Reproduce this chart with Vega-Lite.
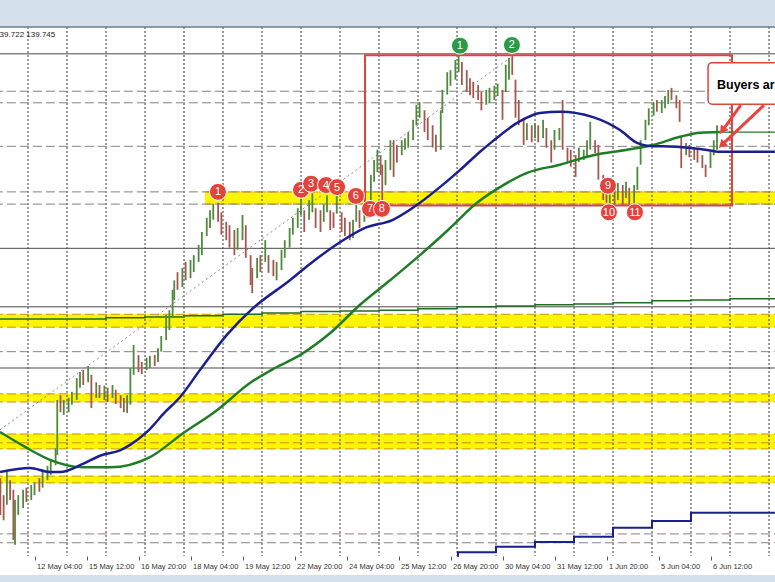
{
  "$schema": "https://vega.github.io/schema/vega-lite/v6.json",
  "width": 775,
  "height": 548,
  "autosize": "none",
  "padding": {"top": 27, "bottom": 7, "left": 0, "right": 0},
  "background": "#d3dfeb",
  "config": {"view": {"fill": "#ffffff", "stroke": null}, "font": "Liberation Sans"},
  "datasets": {
    "grid": [{"b":-4,"p":141.3747,"p2":133.596},{"b":20,"p":141.3747,"p2":133.596},{"b":44,"p":141.3747,"p2":133.596},{"b":68,"p":141.3747,"p2":133.596},{"b":92,"p":141.3747,"p2":133.596},{"b":116,"p":141.3747,"p2":133.596},{"b":140,"p":141.3747,"p2":133.596},{"b":164,"p":141.3747,"p2":133.596},{"b":188,"p":141.3747,"p2":133.596},{"b":212,"p":141.3747,"p2":133.596},{"b":236,"p":141.3747,"p2":133.596},{"b":260,"p":141.3747,"p2":133.596},{"b":284,"p":141.3747,"p2":133.596},{"b":308,"p":141.3747,"p2":133.596},{"b":332,"p":141.3747,"p2":133.596},{"b":356,"p":141.3747,"p2":133.596},{"b":380,"p":141.3747,"p2":133.596},{"b":404,"p":141.3747,"p2":133.596},{"b":428,"p":141.3747,"p2":133.596},{"b":452,"p":141.3747,"p2":133.596}],
    "bands": [
      {"b":104.9,"b2":460,"p":138.95,"p2":138.77},
      {"b":-25,"b2":460,"p":137.15,"p2":136.96},
      {"b":-25,"b2":460,"p":135.98,"p2":135.86},
      {"b":-25,"b2":460,"p":135.39,"p2":135.17},
      {"b":-25,"b2":460,"p":134.77,"p2":134.67}
    ],
    "dash": [
      {"b":-25,"b2":460,"p":140.43},{"b":-25,"b2":460,"p":140.26},{"b":-25,"b2":460,"p":139.62},
      {"b":-25,"b2":460,"p":138.95},{"b":-25,"b2":460,"p":138.77},{"b":-25,"b2":460,"p":136.60},
      {"b":-25,"b2":460,"p":133.92},{"b":-25,"b2":460,"p":133.79}
    ],
    "solid": [
      {"b":-25,"b2":460,"p":140.98},{"b":-25,"b2":460,"p":138.12},{"b":-25,"b2":460,"p":137.26},{"b":-25,"b2":460,"p":136.36}
    ],
    "edges": [
      {"b":104.9,"b2":460,"p":138.95},{"b":104.9,"b2":460,"p":138.77},
      {"b":-25,"b2":460,"p":137.15},{"b":-25,"b2":460,"p":136.96},
      {"b":-25,"b2":460,"p":135.98},{"b":-25,"b2":460,"p":135.86},
      {"b":-25,"b2":460,"p":135.39},{"b":-25,"b2":460,"p":135.26},{"b":-25,"b2":460,"p":135.17},
      {"b":-25,"b2":460,"p":134.77},{"b":-25,"b2":460,"p":134.67}
    ],
    "stepG": [
      {"b":-21.2,"p":137.08},{"b":-4,"p":137.08},{"b":20,"p":137.08},{"b":44,"p":137.10},{"b":68,"p":137.11},{"b":92,"p":137.13},{"b":116,"p":137.15},{"b":140,"p":137.17},{"b":164,"p":137.19},{"b":188,"p":137.20},{"b":212,"p":137.21},{"b":236,"p":137.23},{"b":260,"p":137.26},{"b":284,"p":137.27},{"b":308,"p":137.29},{"b":332,"p":137.30},{"b":356,"p":137.32},{"b":380,"p":137.35},{"b":404,"p":137.36},{"b":428,"p":137.38},{"b":457,"p":137.38}
    ],
    "stepB": [
      {"b":260,"p":133.60},{"b":260.6,"p":133.65},{"b":284,"p":133.73},{"b":308,"p":133.80},{"b":332,"p":133.88},{"b":356,"p":134.01},{"b":380,"p":134.11},{"b":404,"p":134.23},{"b":457,"p":134.23}
    ],
    "trend": [{"b":-21.2,"p":135.45},{"b":292.6,"p":140.92}],
    "candles": [
      {"b":-21,"p":134.74,"p2":134.20,"d":"d"},{"b":-19,"p":134.49,"p2":134.12,"d":"d"},{"b":-17,"p":134.86,"p2":134.35,"d":"u"},{"b":-15,"p":134.71,"p2":134.42,"d":"d"},
      {"b":-13,"p":134.57,"p2":133.83,"d":"d"},{"b":-12,"p":134.42,"p2":133.76,"d":"u"},{"b":-10,"p":134.49,"p2":134.20,"d":"u"},{"b":-7,"p":134.57,"p2":134.30,"d":"u"},
      {"b":-5,"p":134.60,"p2":134.39,"d":"d"},{"b":-2,"p":134.64,"p2":134.42,"d":"u"},{"b":0,"p":134.68,"p2":134.49,"d":"u"},{"b":3,"p":134.74,"p2":134.54,"d":"d"},
      {"b":5,"p":134.86,"p2":134.60,"d":"u"},{"b":8,"p":134.92,"p2":134.71,"d":"u"},{"b":10,"p":135.01,"p2":134.79,"d":"u"},{"b":13,"p":135.18,"p2":134.93,"d":"u"},
      {"b":14,"p":135.89,"p2":135.08,"d":"u"},{"b":16,"p":135.96,"p2":135.71,"d":"d"},{"b":18,"p":135.89,"p2":135.67,"d":"u"},{"b":21,"p":135.92,"p2":135.71,"d":"u"},
      {"b":23,"p":136.01,"p2":135.82,"d":"u"},{"b":26,"p":136.21,"p2":135.89,"d":"u"},{"b":28,"p":136.30,"p2":136.07,"d":"u"},{"b":30,"p":136.33,"p2":136.11,"d":"d"},
      {"b":33,"p":136.39,"p2":136.15,"d":"u"},{"b":35,"p":136.26,"p2":135.77,"d":"d"},{"b":38,"p":136.15,"p2":135.92,"d":"u"},{"b":40,"p":136.11,"p2":135.92,"d":"d"},
      {"b":43,"p":136.10,"p2":135.89,"d":"u"},{"b":45,"p":136.07,"p2":135.86,"d":"d"},{"b":48,"p":136.11,"p2":135.92,"d":"u"},{"b":50,"p":136.04,"p2":135.83,"d":"d"},
      {"b":53,"p":135.96,"p2":135.77,"d":"d"},{"b":55,"p":135.92,"p2":135.71,"d":"d"},{"b":57,"p":135.96,"p2":135.70,"d":"u"},{"b":59,"p":136.36,"p2":135.82,"d":"u"},
      {"b":61,"p":136.70,"p2":136.26,"d":"u"},{"b":64,"p":136.55,"p2":136.30,"d":"d"},{"b":66,"p":136.45,"p2":136.27,"d":"d"},{"b":69,"p":136.51,"p2":136.33,"d":"u"},
      {"b":71,"p":136.54,"p2":136.36,"d":"u"},{"b":74,"p":136.55,"p2":136.39,"d":"d"},{"b":76,"p":136.65,"p2":136.45,"d":"u"},{"b":78,"p":136.83,"p2":136.60,"d":"u"},
      {"b":81,"p":137.14,"p2":136.77,"d":"u"},{"b":83,"p":137.21,"p2":136.92,"d":"u"},{"b":85,"p":137.51,"p2":137.10,"d":"u"},{"b":86,"p":137.65,"p2":137.36,"d":"u"},
      {"b":88,"p":137.77,"p2":137.51,"d":"d"},{"b":91,"p":137.83,"p2":137.55,"d":"u"},{"b":93,"p":137.92,"p2":137.65,"d":"d"},{"b":96,"p":137.95,"p2":137.68,"d":"u"},
      {"b":98,"p":138.02,"p2":137.77,"d":"u"},{"b":101,"p":138.17,"p2":137.92,"d":"u"},{"b":103,"p":138.36,"p2":138.02,"d":"u"},{"b":106,"p":138.57,"p2":138.30,"d":"u"},
      {"b":108,"p":138.68,"p2":138.42,"d":"u"},{"b":110,"p":138.77,"p2":138.54,"d":"u"},{"b":113,"p":138.79,"p2":138.51,"d":"d"},{"b":115,"p":138.65,"p2":138.32,"d":"d"},
      {"b":118,"p":138.51,"p2":138.24,"d":"d"},{"b":120,"p":138.46,"p2":138.13,"d":"d"},{"b":123,"p":138.39,"p2":138.02,"d":"d"},{"b":125,"p":138.42,"p2":138.10,"d":"u"},
      {"b":128,"p":138.61,"p2":138.24,"d":"u"},{"b":130,"p":138.46,"p2":137.98,"d":"d"},{"b":133,"p":138.02,"p2":137.58,"d":"d"},{"b":134,"p":137.83,"p2":137.46,"d":"d"},
      {"b":137,"p":137.98,"p2":137.68,"d":"u"},{"b":139,"p":138.02,"p2":137.77,"d":"d"},{"b":142,"p":138.24,"p2":137.92,"d":"u"},{"b":144,"p":138.02,"p2":137.76,"d":"d"},
      {"b":147,"p":137.95,"p2":137.71,"d":"d"},{"b":149,"p":137.92,"p2":137.65,"d":"u"},{"b":152,"p":138.10,"p2":137.80,"d":"u"},{"b":154,"p":138.24,"p2":137.98,"d":"u"},
      {"b":157,"p":138.42,"p2":138.13,"d":"u"},{"b":159,"p":138.57,"p2":138.32,"d":"u"},{"b":162,"p":138.71,"p2":138.42,"d":"u"},{"b":164,"p":138.86,"p2":138.61,"d":"u"},
      {"b":166,"p":138.68,"p2":138.36,"d":"d"},{"b":169,"p":138.83,"p2":138.54,"d":"u"},{"b":171,"p":138.93,"p2":138.65,"d":"u"},{"b":173,"p":138.71,"p2":138.42,"d":"d"},
      {"b":176,"p":138.68,"p2":138.36,"d":"d"},{"b":178,"p":138.76,"p2":138.51,"d":"u"},{"b":180,"p":138.90,"p2":138.65,"d":"u"},{"b":182,"p":138.68,"p2":138.39,"d":"d"},
      {"b":184,"p":138.65,"p2":138.42,"d":"d"},{"b":186,"p":138.89,"p2":138.63,"d":"u"},{"b":189,"p":138.65,"p2":138.36,"d":"d"},{"b":191,"p":138.57,"p2":138.30,"d":"d"},
      {"b":194,"p":138.51,"p2":138.24,"d":"d"},{"b":196,"p":138.54,"p2":138.27,"d":"u"},{"b":198,"p":138.83,"p2":138.51,"d":"u"},{"b":200,"p":138.68,"p2":138.42,"d":"d"},
      {"b":203,"p":138.71,"p2":138.51,"d":"u"},{"b":205,"p":138.80,"p2":138.57,"d":"d"},{"b":207,"p":139.20,"p2":138.76,"d":"u"},{"b":209,"p":139.42,"p2":139.10,"d":"u"},
      {"b":211,"p":139.57,"p2":139.24,"d":"u"},{"b":213,"p":139.49,"p2":139.20,"d":"d"},{"b":214,"p":139.35,"p2":138.83,"d":"d"},{"b":216,"p":139.42,"p2":139.05,"d":"u"},
      {"b":219,"p":139.71,"p2":139.27,"d":"u"},{"b":221,"p":139.71,"p2":139.17,"d":"d"},{"b":223,"p":139.64,"p2":139.38,"d":"d"},{"b":226,"p":139.71,"p2":139.49,"d":"u"},
      {"b":228,"p":139.74,"p2":139.57,"d":"u"},{"b":230,"p":139.83,"p2":139.60,"d":"u"},{"b":233,"p":140.01,"p2":139.71,"d":"u"},{"b":235,"p":140.23,"p2":139.93,"d":"u"},
      {"b":237,"p":140.27,"p2":140.04,"d":"u"},{"b":240,"p":140.15,"p2":139.83,"d":"d"},{"b":242,"p":140.04,"p2":139.71,"d":"d"},{"b":245,"p":139.93,"p2":139.60,"d":"d"},
      {"b":247,"p":139.79,"p2":139.54,"d":"d"},{"b":250,"p":140.15,"p2":139.57,"d":"u"},{"b":251,"p":140.45,"p2":140.11,"d":"u"},{"b":254,"p":140.71,"p2":140.38,"d":"u"},
      {"b":256,"p":140.74,"p2":140.51,"d":"u"},{"b":259,"p":140.89,"p2":140.60,"d":"u"},{"b":261,"p":140.95,"p2":140.71,"d":"u"},{"b":263,"p":140.86,"p2":140.52,"d":"d"},
      {"b":266,"p":140.74,"p2":140.42,"d":"d"},{"b":268,"p":140.62,"p2":140.37,"d":"d"},{"b":270,"p":140.57,"p2":140.33,"d":"d"},{"b":273,"p":140.52,"p2":140.30,"d":"d"},
      {"b":275,"p":140.42,"p2":140.15,"d":"d"},{"b":278,"p":140.45,"p2":140.23,"d":"u"},{"b":280,"p":140.48,"p2":140.26,"d":"u"},{"b":283,"p":140.51,"p2":140.30,"d":"u"},
      {"b":285,"p":140.54,"p2":140.36,"d":"u"},{"b":288,"p":140.45,"p2":140.01,"d":"d"},{"b":290,"p":140.82,"p2":140.42,"d":"u"},{"b":292,"p":140.92,"p2":140.60,"d":"u"},
      {"b":294,"p":140.95,"p2":140.67,"d":"d"},{"b":296,"p":140.60,"p2":140.04,"d":"d"},{"b":298,"p":140.30,"p2":139.93,"d":"d"},{"b":301,"p":140.04,"p2":139.64,"d":"d"},
      {"b":303,"p":139.96,"p2":139.71,"d":"u"},{"b":306,"p":139.93,"p2":139.68,"d":"d"},{"b":308,"p":139.96,"p2":139.74,"d":"u"},{"b":310,"p":139.93,"p2":139.68,"d":"d"},
      {"b":313,"p":140.01,"p2":139.74,"d":"u"},{"b":315,"p":139.89,"p2":139.60,"d":"d"},{"b":318,"p":139.71,"p2":139.38,"d":"d"},{"b":320,"p":139.86,"p2":139.57,"d":"u"},
      {"b":323,"p":139.89,"p2":139.71,"d":"u"},{"b":325,"p":140.30,"p2":139.57,"d":"d"},{"b":328,"p":139.60,"p2":139.39,"d":"d"},{"b":330,"p":139.57,"p2":139.32,"d":"d"},
      {"b":333,"p":139.49,"p2":139.17,"d":"d"},{"b":335,"p":139.60,"p2":139.39,"d":"u"},{"b":338,"p":139.57,"p2":139.42,"d":"u"},{"b":340,"p":139.71,"p2":139.45,"d":"u"},
      {"b":342,"p":139.98,"p2":139.57,"d":"u"},{"b":345,"p":139.71,"p2":139.52,"d":"d"},{"b":347,"p":139.64,"p2":139.13,"d":"d"},{"b":350,"p":139.20,"p2":138.83,"d":"d"},
      {"b":352,"p":139.05,"p2":138.79,"d":"d"},{"b":354,"p":139.01,"p2":138.74,"d":"u"},{"b":357,"p":138.98,"p2":138.76,"d":"d"},{"b":359,"p":139.08,"p2":138.83,"d":"u"},
      {"b":362,"p":139.05,"p2":138.76,"d":"d"},{"b":364,"p":139.10,"p2":138.86,"d":"u"},{"b":366,"p":139.01,"p2":138.74,"d":"d"},{"b":369,"p":139.05,"p2":138.76,"d":"u"},
      {"b":371,"p":139.32,"p2":138.98,"d":"u"},{"b":373,"p":139.71,"p2":139.35,"d":"u"},{"b":376,"p":140.01,"p2":139.71,"d":"u"},{"b":378,"p":140.18,"p2":139.93,"d":"u"},
      {"b":381,"p":140.27,"p2":140.07,"d":"u"},{"b":383,"p":140.30,"p2":140.13,"d":"d"},{"b":386,"p":140.30,"p2":140.11,"d":"u"},{"b":388,"p":140.36,"p2":140.18,"d":"u"},
      {"b":390,"p":140.45,"p2":140.24,"d":"u"},{"b":392,"p":140.48,"p2":140.30,"d":"d"},{"b":395,"p":140.37,"p2":140.18,"d":"d"},{"b":397,"p":140.30,"p2":139.98,"d":"d"},
      {"b":398,"p":139.76,"p2":139.30,"d":"d"},{"b":401,"p":139.67,"p2":139.49,"d":"u"},{"b":403,"p":139.64,"p2":139.46,"d":"d"},{"b":406,"p":139.60,"p2":139.42,"d":"d"},
      {"b":408,"p":139.57,"p2":139.38,"d":"d"},{"b":411,"p":139.49,"p2":139.30,"d":"d"},{"b":413,"p":139.35,"p2":139.17,"d":"d"},{"b":416,"p":139.54,"p2":139.30,"d":"u"},
      {"b":418,"p":139.71,"p2":139.49,"d":"u"},{"b":420,"p":139.93,"p2":139.57,"d":"u"}
    ],
    "box": [{"b":203.4,"b2":429.2,"p":140.96,"p2":138.75}],
    "maFast": [
      {"b":-21.2,"p":134.83},{"b":-2.8,"p":134.89},{"b":9.5,"p":134.83},{"b":15.7,"p":134.83},{"b":29.8,"p":134.95},{"b":40.3,"p":135.07},{"b":52.6,"p":135.15},{"b":58.8,"p":135.23},{"b":69.2,"p":135.42},{"b":80.3,"p":135.71},{"b":89.5,"p":135.93},{"b":101.8,"p":136.33},{"b":118.5,"p":136.85},{"b":134.5,"p":137.24},{"b":157.2,"p":137.65},{"b":169.5,"p":137.89},{"b":188,"p":138.21},{"b":203.4,"p":138.42},{"b":220.6,"p":138.54},{"b":237.2,"p":138.79},{"b":249.5,"p":139.02},{"b":261.8,"p":139.27},{"b":274.2,"p":139.54},{"b":282.2,"p":139.70},{"b":298.8,"p":139.99},{"b":311.1,"p":140.11},{"b":323.4,"p":140.13},{"b":343.7,"p":140.05},{"b":360.3,"p":139.86},{"b":370.8,"p":139.67},{"b":376.9,"p":139.63},{"b":397.2,"p":139.61},{"b":409.5,"p":139.58},{"b":420,"p":139.54}
    ],
    "maSlow": [
      {"b":-21.2,"p":135.42},{"b":-5.8,"p":135.20},{"b":9.5,"p":135.01},{"b":29.8,"p":134.90},{"b":46.5,"p":134.90},{"b":71.1,"p":135.05},{"b":91.4,"p":135.40},{"b":112.3,"p":135.74},{"b":132.6,"p":136.14},{"b":148,"p":136.36},{"b":163.4,"p":136.55},{"b":181.8,"p":136.87},{"b":200.3,"p":137.29},{"b":218.8,"p":137.65},{"b":237.2,"p":138.02},{"b":254.5,"p":138.39},{"b":272.3,"p":138.79},{"b":286.5,"p":139.02},{"b":303.1,"p":139.23},{"b":323.4,"p":139.35},{"b":343.7,"p":139.49},{"b":364.6,"p":139.57},{"b":380.6,"p":139.64},{"b":397.2,"p":139.76},{"b":409.5,"p":139.82},{"b":421.8,"p":139.83}
    ],
    "ext": [{"b":420,"b2":460,"p":139.54,"k":"fast"},{"b":421.8,"b2":460,"p":139.83,"k":"slow"}],
    "marks": [
      {"b":112.9,"p":138.95,"n":"1","c":"r"},{"b":164.0,"p":138.98,"n":"2","c":"r"},{"b":170.2,"p":139.07,"n":"3","c":"r"},{"b":179.4,"p":139.05,"n":"4","c":"r"},
      {"b":186.2,"p":139.02,"n":"5","c":"r"},{"b":197.8,"p":138.89,"n":"6","c":"r"},{"b":206.5,"p":138.70,"n":"7","c":"r"},{"b":213.8,"p":138.70,"n":"8","c":"r"},
      {"b":352.9,"p":139.04,"n":"9","c":"r"},{"b":353.5,"p":138.65,"n":"10","c":"r"},{"b":369.5,"p":138.65,"n":"11","c":"r"},
      {"b":261.8,"p":141.10,"n":"1","c":"g"},{"b":293.8,"p":141.11,"n":"2","c":"g"}
    ],
    "callout": [{"b":414.5,"b2":470,"p":140.85,"p2":140.24}],
    "calloutText": [{"b":420,"p":140.52,"t":"Buyers are"}],
    "arrows": [{"b":434.2,"p":140.21,"b2":423.3,"p2":139.85},{"b":448.3,"p":140.21,"b2":423.0,"p2":139.64}],
    "heads": [{"b":423.3,"p":139.85,"w":"a"},{"b":423.0,"p":139.64,"w":"b"}],
    "notes": [{"b":-24.2,"p":141.26,"t":"139.722 139.745"}],
    "frame": [{"b":-25,"b2":460,"p":141.3747}]
  },
  "encoding": {
    "x": {
      "field": "b", "type": "quantitative",
      "scale": {"domain": [-21.2308, 455.6923], "nice": false, "zero": false},
      "axis": {
        "values": [-32,0,32,64,96,128,160,192,224,256,288,320,352,384,416],
        "labelExpr": "['11 May 20:00','12 May 04:00','15 May 12:00','16 May 20:00','18 May 04:00','19 May 12:00','22 May 20:00','24 May 04:00','25 May 12:00','26 May 20:00','30 May 04:00','31 May 12:00','1 Jun 20:00','5 Jun 04:00','6 Jun 12:00'][(datum.value+32)/32]",
        "title": null, "grid": false, "domain": false, "ticks": true, "tickSize": 4, "tickColor": "#555", "tickWidth": 1,
        "labelAlign": "left", "labelBaseline": "top", "labelPadding": 2, "labelOffset": 2,
        "labelFont": "Liberation Sans", "labelFontSize": 7.5, "labelColor": "#333",
        "labelOverlap": false, "labelBound": false, "labelFlush": false, "offset": -19
      }
    },
    "y": {
      "field": "p", "type": "quantitative",
      "scale": {"domain": [133.3159, 141.3747], "nice": false, "zero": false},
      "axis": null
    }
  },
  "layer": [
    {"data": {"name": "bands"}, "mark": {"type": "rect", "fill": "#fcf400"},
     "encoding": {"x2": {"field": "b2"}, "y2": {"field": "p2"}}},
    {"data": {"name": "grid"}, "mark": {"type": "rule", "stroke": "#3a3a3a", "strokeWidth": 1, "strokeDash": [2, 2]},
     "encoding": {"y2": {"field": "p2"}}},
    {"data": {"name": "dash"}, "mark": {"type": "rule", "stroke": "#8a7f7f", "strokeWidth": 1, "strokeDash": [9, 4]},
     "encoding": {"x2": {"field": "b2"}}},
    {"data": {"name": "solid"}, "mark": {"type": "rule", "stroke": "#4a4a4a", "strokeWidth": 1},
     "encoding": {"x2": {"field": "b2"}}},
    {"data": {"name": "edges"}, "mark": {"type": "rule", "stroke": "#c98f20", "strokeWidth": 1, "strokeDash": [9, 4]},
     "encoding": {"x2": {"field": "b2"}}},
    {"data": {"name": "frame"}, "mark": {"type": "rule", "stroke": "#6d7c8c", "strokeWidth": 1.5},
     "encoding": {"x2": {"field": "b2"}}},
    {"data": {"name": "stepG"}, "mark": {"type": "line", "stroke": "#1f6e22", "strokeWidth": 1.5, "interpolate": "step-after"},
     "encoding": {}},
    {"data": {"name": "stepB"}, "mark": {"type": "line", "stroke": "#1c1f8e", "strokeWidth": 2, "interpolate": "step-after"},
     "encoding": {}},
    {"data": {"name": "trend"}, "mark": {"type": "line", "stroke": "#8c8c8c", "strokeWidth": 1, "strokeDash": [2, 3]},
     "encoding": {}},
    {"data": {"name": "candles"}, "mark": {"type": "rule", "strokeWidth": 1.8},
     "encoding": {"y2": {"field": "p2"}, "color": {"condition": {"test": "datum.d === 'u'", "value": "#4f8a3c"}, "value": "#a4574f"}}},
    {"data": {"name": "box"}, "mark": {"type": "rect", "filled": false, "stroke": "#d6463f", "strokeWidth": 2},
     "encoding": {"x2": {"field": "b2"}, "y2": {"field": "p2"}}},
    {"data": {"name": "maSlow"}, "mark": {"type": "line", "stroke": "#1f7d24", "strokeWidth": 2.5, "interpolate": "monotone"},
     "encoding": {}},
    {"data": {"name": "maFast"}, "mark": {"type": "line", "stroke": "#1c1f8e", "strokeWidth": 2.5, "interpolate": "monotone"},
     "encoding": {}},
    {"data": {"name": "ext"}, "mark": {"type": "rule"},
     "encoding": {"x2": {"field": "b2"},
       "color": {"condition": {"test": "datum.k === 'fast'", "value": "#1c1f8e"}, "value": "#1f7d24"},
       "strokeWidth": {"condition": {"test": "datum.k === 'fast'", "value": 2.5}, "value": 1.3}}},
    {"data": {"name": "marks"}, "mark": {"type": "point", "shape": "circle", "filled": true, "size": 289, "stroke": "#ffffff", "strokeWidth": 1, "opacity": 1},
     "encoding": {"fill": {"condition": {"test": "datum.c === 'g'", "value": "#2a9a46"}, "value": "#e2433d"}}},
    {"data": {"name": "marks"}, "mark": {"type": "text", "fill": "#ffffff", "fontSize": 11, "align": "center", "baseline": "middle", "dy": 0.5},
     "encoding": {"text": {"field": "n"}}},
    {"data": {"name": "callout"}, "mark": {"type": "rect", "fill": "#ffffff", "stroke": "#e0453e", "strokeWidth": 1.5, "cornerRadius": 4},
     "encoding": {"x2": {"field": "b2"}, "y2": {"field": "p2"}}},
    {"data": {"name": "calloutText"}, "mark": {"type": "text", "fill": "#000000", "fontSize": 12.5, "fontWeight": "bold", "align": "left", "baseline": "middle"},
     "encoding": {"text": {"field": "t"}}},
    {"data": {"name": "arrows"}, "mark": {"type": "rule", "stroke": "#e8443e", "strokeWidth": 3, "strokeCap": "round"},
     "encoding": {"x2": {"field": "b2"}, "y2": {"field": "p2"}}},
    {"data": {"name": "heads"}, "mark": {"type": "point", "shape": "triangle-up", "filled": true, "size": 90, "fill": "#e8443e", "opacity": 1},
     "encoding": {"angle": {"condition": {"test": "datum.w === 'a'", "value": 215}, "value": 226}}},
    {"data": {"name": "notes"}, "mark": {"type": "text", "fill": "#222222", "fontSize": 8, "align": "left", "baseline": "middle"},
     "encoding": {"text": {"field": "t"}}}
  ]
}
